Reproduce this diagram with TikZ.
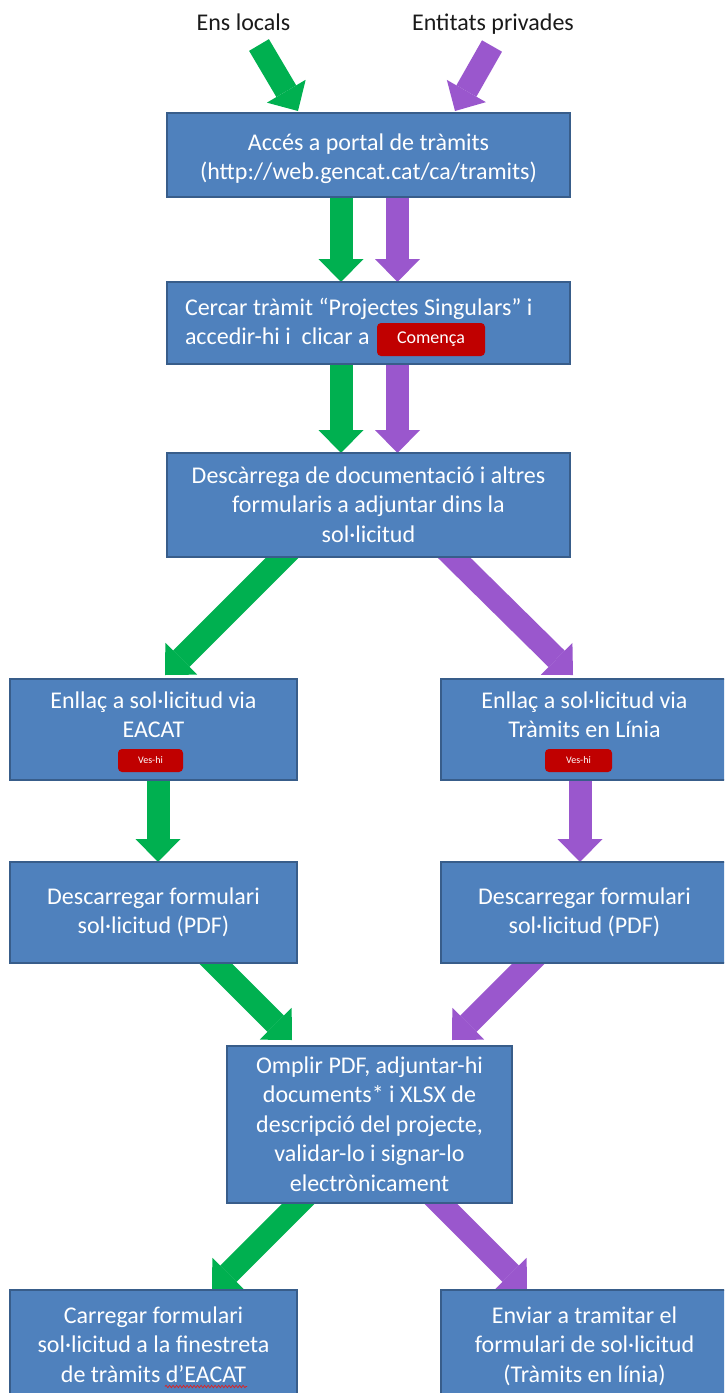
\documentclass[tikz,border=0pt]{standalone}
\usepackage{fontspec}
\setmainfont{Carlito}
\usetikzlibrary{arrows.meta,decorations.pathmorphing}
\definecolor{boxfill}{HTML}{4F81BD}
\definecolor{boxline}{HTML}{385D8A}
\definecolor{agreen}{HTML}{00B050}
\definecolor{apurple}{HTML}{9A57CD}
\definecolor{btnred}{HTML}{C00000}
\definecolor{lbltxt}{HTML}{1A1A1A}
\definecolor{spellred}{HTML}{E02020}
\pgfdeclarelayer{bg}
\pgfsetlayers{bg,main}
\newcommand\topstrut{\rule{0pt}{20pt}}
\tikzset{
  box/.style 2 args={draw=boxline, line width=2.5pt, fill=boxfill,
    minimum width=#1, minimum height=#2, inner sep=0pt, outer sep=0pt},
  boxtext/.style={text=white, font=\fontsize{24}{29.5}\selectfont,
    align=center, inner sep=0pt, outer sep=0pt, anchor=north},
  lbltext/.style={text=lbltxt, font=\fontsize{24}{29.5}\selectfont,
    inner sep=0pt, outer sep=0pt, anchor=base},
  btn/.style 2 args={fill=btnred, rounded corners=4pt, text=white,
    minimum width=#1, minimum height=#2, inner sep=0pt, outer sep=0pt},
  blk/.style={line width=23pt,
    -{Triangle[length=23pt 0 0,width=45pt 0 0,line width=0pt 0 0]}},
  garrow/.style={blk, draw=agreen, fill=agreen},
  parrow/.style={blk, draw=apurple, fill=apurple},
}
\begin{document}
\begin{tikzpicture}[x=1pt,y=-1pt]
\useasboundingbox (0,0) rectangle (724,1393);
\clip (0,0) rectangle (724,1393);

% top labels
\node[lbltext] (ens) at (243.5,30) {Ens locals};
\node[lbltext] (ent) at (493,30) {Entitats privades};

% boxes
\node[box={403pt}{84pt}]  (b1)  at (368.5,155) {};
\node[box={403pt}{82pt}]  (b2)  at (368.5,323) {};
\node[box={403pt}{104pt}] (b3)  at (368.5,505) {};
\node[box={287pt}{101pt}] (b4l) at (153.5,729.5) {};
\node[box={287pt}{101pt}] (b4r) at (584.5,729.5) {};
\node[box={287pt}{101pt}] (b5l) at (153.5,912.5) {};
\node[box={287pt}{101pt}] (b5r) at (584.5,912.5) {};
\node[box={285pt}{157pt}] (b6)  at (369.5,1124.5) {};
\node[box={287pt}{112pt}] (b7l) at (153.5,1346) {};
\node[box={287pt}{112pt}] (b7r) at (584.5,1346) {};

% box texts
\node[boxtext] (t1) at (368.5,130) {\topstrut Accés a portal de tràmits\\(http://web.gencat.cat/ca/tramits)};
\node[boxtext, anchor=north west, align=left] (t2) at (185,295)
  {\topstrut Cercar tràmit “Projectes Singulars” i\\accedir-hi i\ \ clicar a};
\node[btn={108pt}{33pt}, font=\fontsize{18}{20}\selectfont] (com) at (431,339.5) {Comença};
\node[boxtext] (t3) at (368.5,463) {\topstrut Descàrrega de documentació i altres\\formularis a adjuntar dins la\\sol·licitud};
\node[boxtext] (t4l) at (153.5,688) {\topstrut Enllaç a sol·licitud via\\EACAT};
\node[boxtext] (t4r) at (584.5,688) {\topstrut Enllaç a sol·licitud via\\Tràmits en Línia};
\node[btn={65pt}{23pt}, font=\fontsize{10}{12}\selectfont] (ves1) at (150.5,760.5) {Ves-hi};
\node[btn={67pt}{23pt}, font=\fontsize{10}{12}\selectfont] (ves2) at (578.5,760.5) {Ves-hi};
\node[boxtext] (t5l) at (153.5,884) {\topstrut Descarregar formulari\\sol·licitud (PDF)};
\node[boxtext] (t5r) at (584.5,884) {\topstrut Descarregar formulari\\sol·licitud (PDF)};
\node[boxtext] (t6) at (369.5,1053) {\topstrut Omplir PDF, adjuntar-hi\\documents* i XLSX de\\descripció del projecte,\\validar-lo i signar-lo\\electrònicament};
\node[boxtext] (t7l) at (153.5,1303) {\topstrut Carregar formulari\\sol·licitud a la finestreta\\de tràmits d’EACAT};
\node[boxtext] (t7r) at (584.5,1303) {\topstrut Enviar a tramitar el\\formulari de sol·licitud\\(Tràmits en línia)};

% spell-check squiggle
\draw[spellred, line width=0.7pt, decorate,
  decoration={snake, amplitude=1.2pt, segment length=3.5pt}] (165,1386.5) -- (247,1386.5);

% arrows
\begin{pgfonlayer}{bg}
\draw[garrow] ([xshift=15.5pt,yshift=-15pt]ens.base) -- ([xshift=-70.5pt,yshift=2pt]b1.north);
\draw[parrow] ([xshift=-1pt,yshift=-16pt]ent.base) -- ([xshift=86.5pt,yshift=2pt]b1.north);

\draw[garrow] ([xshift=-27.5pt]b1.south) -- ([xshift=-27.5pt]b2.north);
\draw[parrow] ([xshift=29pt]b1.south) -- ([xshift=29pt]b2.north);
\draw[garrow] ([xshift=-27.5pt]b2.south) -- ([xshift=-27.5pt]b3.north);
\draw[parrow] ([xshift=29pt]b2.south) -- ([xshift=29pt]b3.north);

\draw[garrow] ([xshift=-60.5pt,yshift=25pt]b3.south) -- ([xshift=11.5pt,yshift=4pt]b4l.north);
\draw[parrow] ([xshift=59.5pt,yshift=25pt]b3.south) -- ([xshift=-11.5pt,yshift=4pt]b4r.north);

\draw[garrow] ([xshift=4.5pt]b4l.south) -- ([xshift=4.5pt]b5l.north);
\draw[parrow] ([xshift=-4.5pt]b4r.south) -- ([xshift=-4.5pt]b5r.north);

\draw[garrow] ([xshift=36.5pt,yshift=25pt]b5l.south) -- ([xshift=-77.5pt,yshift=6pt]b6.north);
\draw[parrow] ([xshift=-30.5pt,yshift=25pt]b5r.south) -- ([xshift=82.5pt,yshift=6pt]b6.north);

\draw[garrow] ([xshift=-45.5pt,yshift=25pt]b6.south) -- ([xshift=58.5pt]b7l.north);
\draw[parrow] ([xshift=45.5pt,yshift=25pt]b6.south) -- ([xshift=-57.5pt]b7r.north);
\end{pgfonlayer}
\end{tikzpicture}
\end{document}
